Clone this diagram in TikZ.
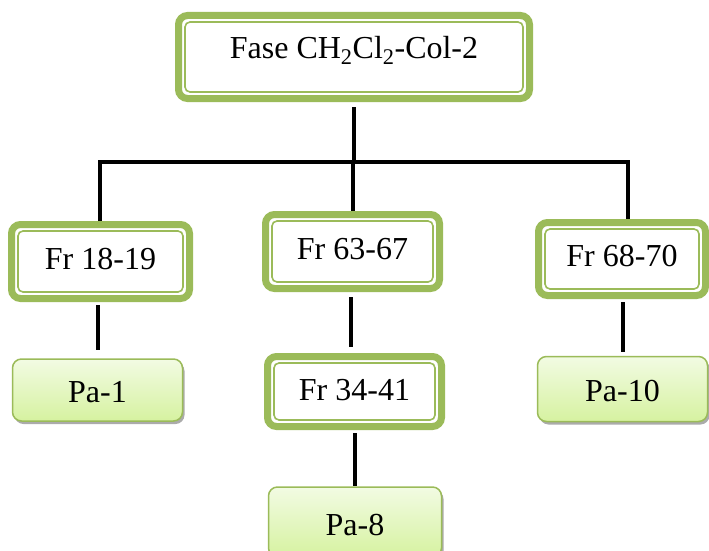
\documentclass[tikz,border=0pt]{standalone}
\usepackage{fontspec}
\setmainfont{Liberation Serif}
\usetikzlibrary{shadows}
\definecolor{frgreen}{HTML}{9BBB59}
\definecolor{patop}{HTML}{F2FBE3}
\definecolor{pabottom}{HTML}{D6F2A0}
\tikzset{
  every node/.style={font=\fontsize{32}{38}\selectfont},
  frbox/.style={draw=frgreen, line width=7pt, rounded corners=9pt, fill=white,
    inner sep=0pt, text height=22pt, text depth=7pt},
  innerline/.style={draw=frgreen, line width=1.6pt, rounded corners=5pt},
  pabox/.style={draw=frgreen, line width=1.5pt, rounded corners=9pt,
    top color=patop, bottom color=pabottom, inner sep=0pt,
    text height=25pt, text depth=0pt,
    drop shadow={shadow xshift=2pt, shadow yshift=-3pt, fill=black!55, opacity=0.6}},
  conn/.style={draw=black, line width=4pt}
}
\begin{document}
\begin{tikzpicture}[x=1pt, y=-1pt]
\useasboundingbox (0,0) rectangle (709,551);

% framed boxes
\node[frbox, minimum width=351pt, minimum height=83pt, text height=22pt, text depth=19.5pt]
  (top) at (354,57) {Fase CH\textsubscript{2}Cl\textsubscript{2}-Col-2};
\node[frbox, minimum width=178pt, minimum height=74pt] (f1) at (100.5,261.5) {Fr 18-19};
\node[frbox, minimum width=174pt, minimum height=74pt] (f2) at (352.5,251.5) {Fr 63-67};
\node[frbox, minimum width=167pt, minimum height=73pt] (f3) at (622,259) {Fr 68-70};
\node[frbox, minimum width=174pt, minimum height=70pt, text depth=4pt] (f4) at (354.5,391.5) {Fr 34-41};

% thin inner frame of each framed box
\foreach \n in {top,f1,f2,f3,f4}
  \draw[innerline] ([shift={(10pt,-10pt)}]\n.north west) rectangle ([shift={(-10pt,10pt)}]\n.south east);

% end boxes
\node[pabox, minimum width=170pt, minimum height=62pt] (p1) at (97.5,390) {Pa-1};
\node[pabox, minimum width=173pt, minimum height=70pt, text height=27pt] (p8) at (355,522) {Pa-8};
\node[pabox, minimum width=170pt, minimum height=65pt] (p10) at (622.5,389) {Pa-10};

% tree connectors
\coordinate (hub) at (354,162);
\coordinate (bl) at (100,162);
\coordinate (bm) at (353,162);
\coordinate (br) at (628,162);
\draw[conn] ([yshift=-5pt]top.south) -- (hub);
\draw[conn, line join=miter] (bl |- f1.north) -- (bl) -- (br) -- (br |- f3.north);
\draw[conn] (bm) -- (bm |- f2.north);

\draw[conn] ([yshift=-3pt]f1.south -| p1.north) -- ([yshift=8pt]p1.north);
\draw[conn] ([xshift=-1.5pt, yshift=-5pt]f2.south) -- ([xshift=-1.5pt, yshift=6pt]f2.south |- f4.north);
\draw[conn] ([yshift=-3pt]f4.south -| p8.north) -- (p8.north);
\draw[conn] ([yshift=-3pt]f3.south -| p10.north) -- ([yshift=4pt]p10.north);
\end{tikzpicture}
\end{document}
